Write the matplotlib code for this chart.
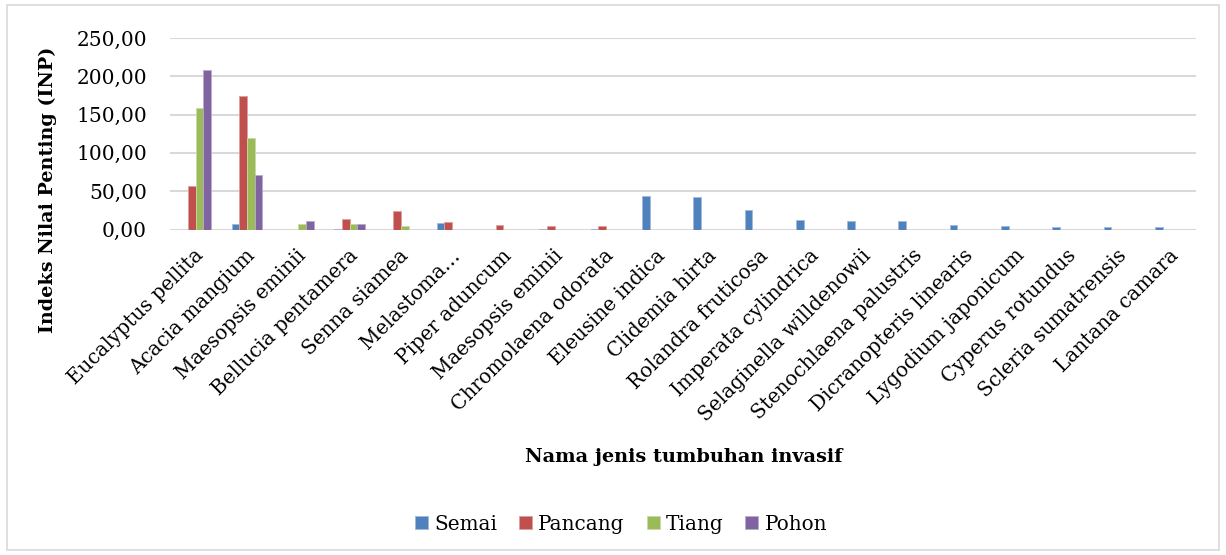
import matplotlib
matplotlib.use('Agg')
import matplotlib.pyplot as plt
import matplotlib.transforms as mtransforms
import numpy as np
from matplotlib.colors import to_rgb
from matplotlib.patches import Rectangle
from matplotlib.ticker import FuncFormatter

# data
species = ['Eucalyptus pellita', 'Acacia mangium', 'Maesopsis eminii', 'Bellucia pentamera',
           'Senna siamea', 'Melastoma…', 'Piper aduncum', 'Maesopsis eminii',
           'Chromolaena odorata', 'Eleusine indica', 'Clidemia hirta', 'Rolandra fruticosa',
           'Imperata cylindrica', 'Selaginella willdenowii', 'Stenochlaena palustris',
           'Dicranopteris linearis', 'Lygodium japonicum', 'Cyperus rotundus',
           'Scleria sumatrensis', 'Lantana camara']
semai = [0, 7.0, 0, 1.3, 0, 9.1, 0, 1.3, 1.3, 44.3, 42.6, 26.1, 12.6, 11.7, 11.3, 6.5, 4.8, 3.9, 3.9, 3.0]
pancang = [57.0, 174.0, 0, 14.3, 24.3, 10.4, 6.3, 5.2, 4.8, 0, 0, 0, 0, 0, 0, 0, 0, 0, 0, 0]
tiang = [158.7, 119.6, 7.0, 7.0, 5.2, 0, 0, 0, 0, 0, 0, 0, 0, 0, 0, 0, 0, 0, 0, 0]
pohon = [208.7, 70.9, 11.3, 7.0, 0, 0, 0, 0, 0, 0, 0, 0, 0, 0, 0, 0, 0, 0, 0, 0]

series = [('Semai', semai, '#4F81BD'), ('Pancang', pancang, '#C0504D'),
          ('Tiang', tiang, '#9BBB59'), ('Pohon', pohon, '#8064A2')]

plt.rcParams['font.family'] = ['DejaVu Serif']

W, H = 1226, 555
fig = plt.figure(figsize=(W / 100, H / 100), dpi=100)
left, right, bottom, top = 170, 1196, 229.5, 38
ax = fig.add_axes([left / W, 1 - bottom / H, (right - left) / W, (bottom - top) / H])

x = np.arange(len(species))
width = 0.15
for i, (name, vals, color) in enumerate(series):
    edge = tuple(0.55 * c + 0.45 for c in to_rgb(color))
    ax.bar(x + (i - 1.5) * width, vals, width, color=color, label=name,
           edgecolor=edge, linewidth=0.6, zorder=3)

ax.set_xlim(-0.5, len(species) - 0.5)
ax.set_ylim(0, 250)
ax.set_yticks(np.arange(0, 251, 50))
ax.yaxis.set_major_formatter(FuncFormatter(lambda v, p: f'{v:.2f}'.replace('.', ',')))
ax.grid(axis='y', color='#D9D9D9', linewidth=1.5, zorder=0)
for s in ax.spines.values():
    s.set_visible(False)
ax.tick_params(axis='both', length=0, labelsize=14.5)
ax.tick_params(axis='y', pad=16.5)
ax.tick_params(axis='x', pad=8)
ax.set_xticks(x)
ax.set_xticklabels(species, rotation=45, ha='right', va='center', rotation_mode='anchor',
                   fontsize=14.3)
# nudge the slanted labels a little right and down
shift = mtransforms.ScaledTranslation(5 / 100, -12 / 100, fig.dpi_scale_trans)
for lbl in ax.get_xticklabels():
    lbl.set_transform(lbl.get_transform() + shift)

ax.set_ylabel('Indeks Nilai Penting (INP)', fontsize=13.8, fontweight='bold')
ax.yaxis.set_label_coords((57 - left) / (right - left), (bottom - 190) / (bottom - top))
fig.text(0.5 * (525 + 843) / W, 1 - 457 / H, 'Nama jenis tumbuhan invasif',
         ha='center', va='center', fontsize=13.9, fontweight='bold')

fig.legend(loc='center', bbox_to_anchor=(0.5 * (416 + 826) / W, 1 - 524 / H), ncol=4, frameon=False,
           fontsize=14.4, handlelength=0.65, handleheight=0.65, columnspacing=1.1, handletextpad=0.3)

fig.patches.append(Rectangle((7 / W, 5 / H), 1212 / W, 545 / H, transform=fig.transFigure,
                             fill=False, edgecolor='#D9D9D9', linewidth=1.2))

fig.savefig('out.png', dpi=100)
